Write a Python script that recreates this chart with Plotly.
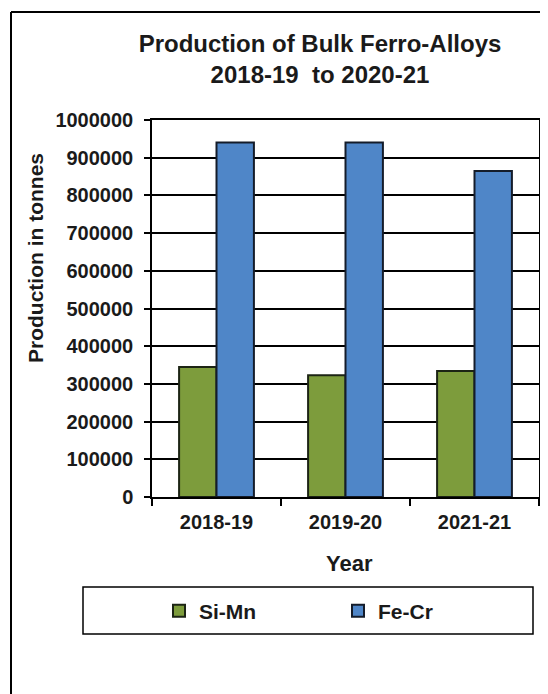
import plotly.graph_objects as go

years = ["2018-19", "2019-20", "2021-21"]
si_mn = [345000, 323000, 334000]
fe_cr = [940000, 940000, 865000]
y_ticks = [0, 100000, 200000, 300000, 400000, 500000, 600000, 700000, 800000, 900000, 1000000]

# the page body has an 8px margin, so the figure is drawn offset by 8px
OFF = 8
W, H = 548 - OFF, 694 - OFF
L, R, T, B = 152 - OFF, 9 - OFF + 8, 120 - OFF, 197 - OFF + 8
# L/T in figure coords; R/B chosen so plot area ends at page x=539, y=497
R = W - (539 - OFF)
B = H - (497 - OFF)
pw, ph = W - L - R, H - T - B

def px(x):
    return (x - OFF - L) / pw

def py(y):
    return (H - B - (y - OFF)) / ph

FONT = "Arial, Liberation Sans, sans-serif"
TXT = "#1a1a1a"

fig = go.Figure()
fig.add_trace(go.Bar(name="<b>Si-Mn</b>", x=years, y=si_mn,
                     marker=dict(color="#7d9c3c", line=dict(color="#1c2414", width=2))))
fig.add_trace(go.Bar(name="<b>Fe-Cr</b>", x=years, y=fe_cr,
                     marker=dict(color="#4f86c8", line=dict(color="#141c2a", width=2))))

fig.update_layout(
    width=W, height=H,
    margin=dict(l=L, r=R, t=T, b=B, pad=0, autoexpand=False),
    paper_bgcolor="white", plot_bgcolor="white",
    barmode="group", bargap=0.42, bargroupgap=0,
    font=dict(family=FONT, color=TXT),
    title=dict(text="<b>Production of Bulk Ferro-Alloys<br>2018-19  to 2020-21</b>",
               x=px(320), xanchor="center", xref="paper",
               y=1 - (52 - OFF) / H, yanchor="middle", yref="container",
               font=dict(size=24, family=FONT, color=TXT)),
    showlegend=True,
    legend=dict(orientation="h", x=px(159), xanchor="left", y=py(611), yanchor="middle",
                font=dict(size=21, family=FONT, color=TXT),
                entrywidth=134, entrywidthmode="pixels", itemwidth=30,
                bgcolor="rgba(0,0,0,0)", borderwidth=0),
)

fig.update_xaxes(
    tickvals=years, ticktext=["<b>%s</b>" % y for y in years],
    tickson="boundaries", ticks="outside", ticklen=7, tickwidth=1.5, tickcolor="black",
    ticklabelstandoff=6,
    tickfont=dict(size=20, family=FONT, color=TXT),
    showline=True, linecolor="black", linewidth=1.5, mirror=True,
    showgrid=False,
)
fig.update_yaxes(
    range=[0, 1000000], tickvals=y_ticks, ticktext=["<b>%d</b>" % v for v in y_ticks],
    ticks="outside", ticklen=6, tickwidth=1.5, tickcolor="black",
    ticklabelstandoff=7,
    tickfont=dict(size=20, family=FONT, color=TXT),
    showline=True, linecolor="black", linewidth=1.5, mirror=True,
    showgrid=True, gridcolor="black", gridwidth=1.5,
    zeroline=False,
)

fig.add_annotation(text="<b>Production in tonnes</b>", textangle=-90,
                   x=px(35), y=py(258), xref="paper", yref="paper",
                   xanchor="center", yanchor="middle", showarrow=False,
                   font=dict(size=21, family=FONT, color=TXT))
fig.add_annotation(text="<b>Year</b>",
                   x=px(349), y=py(563), xref="paper", yref="paper",
                   xanchor="center", yanchor="middle", showarrow=False,
                   font=dict(size=22, family=FONT, color=TXT))

# legend frame
fig.add_shape(type="rect", xref="paper", yref="paper",
              x0=px(83), x1=px(533), y0=py(634), y1=py(587),
              line=dict(color="black", width=1.5), fillcolor="rgba(0,0,0,0)")
# outer chart frame (top and left edges visible)
fig.add_shape(type="line", xref="paper", yref="paper",
              x0=px(11), x1=px(560), y0=py(12), y1=py(12),
              line=dict(color="black", width=2))
fig.add_shape(type="line", xref="paper", yref="paper",
              x0=px(11), x1=px(11), y0=py(12), y1=py(710),
              line=dict(color="black", width=2))

fig.write_html("out.html")
